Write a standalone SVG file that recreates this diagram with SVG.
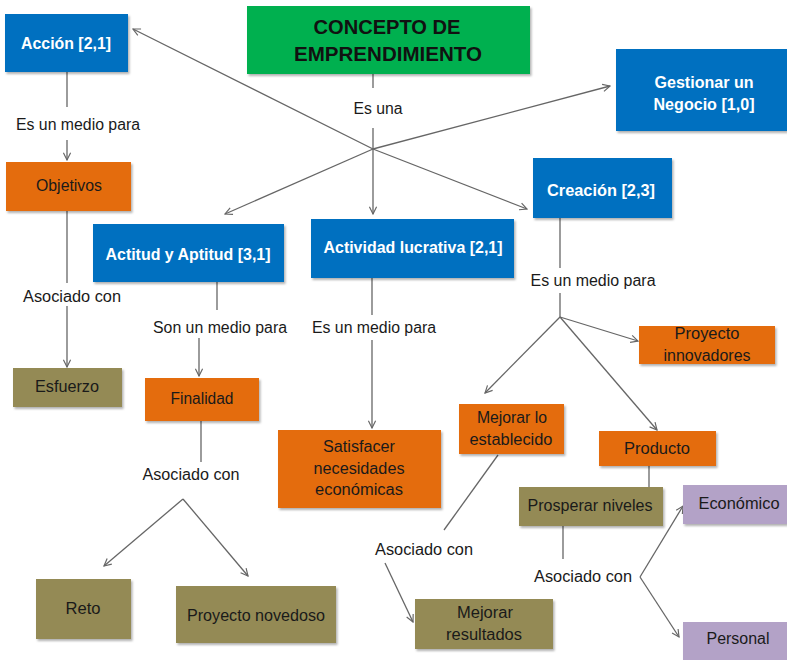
<svg xmlns="http://www.w3.org/2000/svg" width="787" height="660" viewBox="0 0 787 660">
<style>
text{font-family:"Liberation Sans",Arial,sans-serif;text-anchor:middle}
.bl{fill:#0070C0}.gr{fill:#00B050}.or{fill:#E46C0A}.ol{fill:#948A54}.pu{fill:#B3A2C7}
.wt{fill:#ffffff;font-weight:bold;font-size:17px}
.ct{fill:#111111;font-weight:bold;font-size:20px}
.dt{fill:#1a1a1a;font-size:16px}
.lb{fill:#1a1a1a;font-size:16px}
.cn line{stroke:#666666;stroke-width:1.3;fill:none}
.cn .a{marker-end:url(#ar)}
</style>
<defs>
<marker id="ar" viewBox="0 0 10 10" refX="9" refY="5" markerWidth="9" markerHeight="9" markerUnits="userSpaceOnUse" orient="auto">
<path d="M1,1 L9,5 L1,9" fill="none" stroke="#666666" stroke-width="1.3"/>
</marker>
<filter id="sh" x="-10%" y="-10%" width="130%" height="140%">
<feDropShadow dx="1.5" dy="2" stdDeviation="1.2" flood-color="#000" flood-opacity="0.3"/>
</filter>
</defs>
<rect width="787" height="660" fill="#ffffff"/>

<g class="cn" id="connectors">
<line x1="67" y1="72" x2="67" y2="107"/>
<line class="a" x1="67" y1="140" x2="67" y2="160"/>
<line x1="67" y1="211" x2="67" y2="283"/>
<line class="a" x1="67" y1="306" x2="67" y2="367"/>
<line x1="373" y1="74" x2="373" y2="88"/>
<line x1="373" y1="128" x2="373" y2="149"/>
<line class="a" x1="373" y1="149" x2="133" y2="29"/>
<line class="a" x1="373" y1="149" x2="610" y2="86"/>
<line class="a" x1="373" y1="149" x2="225" y2="214"/>
<line class="a" x1="373" y1="149" x2="527" y2="209"/>
<line class="a" x1="373" y1="149" x2="373" y2="214"/>
<line x1="217" y1="282" x2="217" y2="310"/>
<line class="a" x1="199" y1="338" x2="199" y2="376"/>
<line x1="201" y1="421" x2="201" y2="462"/>
<line class="a" x1="183" y1="499" x2="104" y2="566"/>
<line class="a" x1="183" y1="499" x2="248" y2="576"/>
<line x1="372" y1="278" x2="372" y2="315"/>
<line class="a" x1="372" y1="340" x2="372" y2="428"/>
<line x1="560" y1="218" x2="560" y2="268"/>
<line x1="560" y1="293" x2="560" y2="317"/>
<line class="a" x1="560" y1="317" x2="638" y2="341"/>
<line class="a" x1="560" y1="317" x2="485" y2="393"/>
<line class="a" x1="560" y1="317" x2="657" y2="430"/>
<line x1="498" y1="455" x2="444" y2="530"/>
<line class="a" x1="385" y1="563" x2="413" y2="622"/>
<line x1="649" y1="466" x2="649" y2="487"/>
<line x1="563" y1="526" x2="563" y2="559"/>
<line class="a" x1="640" y1="577" x2="683" y2="506"/>
<line class="a" x1="640" y1="577" x2="679" y2="637"/>
</g>

<g id="labels">
<text class="lb" x="78" y="130" textLength="124" lengthAdjust="spacingAndGlyphs">Es un medio para</text>
<text class="lb" x="72" y="302" textLength="98" lengthAdjust="spacingAndGlyphs">Asociado con</text>
<text class="lb" x="378" y="114" textLength="49" lengthAdjust="spacingAndGlyphs">Es una</text>
<text class="lb" x="220" y="333" textLength="134" lengthAdjust="spacingAndGlyphs">Son un medio para</text>
<text class="lb" x="374" y="333" textLength="124" lengthAdjust="spacingAndGlyphs">Es un medio para</text>
<text class="lb" x="593" y="286" textLength="125" lengthAdjust="spacingAndGlyphs">Es un medio para</text>
<text class="lb" x="191" y="480" textLength="97" lengthAdjust="spacingAndGlyphs">Asociado con</text>
<text class="lb" x="424" y="555" textLength="98" lengthAdjust="spacingAndGlyphs">Asociado con</text>
<text class="lb" x="583" y="582" textLength="98" lengthAdjust="spacingAndGlyphs">Asociado con</text>
</g>

<g id="concepto"><rect class="gr" x="247" y="6" width="283" height="68" filter="url(#sh)"/>
<text class="ct" x="387" y="34" textLength="147" lengthAdjust="spacingAndGlyphs">CONCEPTO DE</text>
<text class="ct" x="388" y="61" textLength="188" lengthAdjust="spacingAndGlyphs">EMPRENDIMIENTO</text></g>

<g id="accion"><rect class="bl" x="5" y="14" width="123" height="58" filter="url(#sh)"/>
<text class="wt" x="66" y="49" textLength="90" lengthAdjust="spacingAndGlyphs">Acción [2,1]</text></g>

<g id="gestionar"><rect class="bl" x="616" y="49" width="171" height="82" filter="url(#sh)"/>
<text class="wt" x="704" y="88" textLength="99" lengthAdjust="spacingAndGlyphs">Gestionar un</text>
<text class="wt" x="704" y="110" textLength="101" lengthAdjust="spacingAndGlyphs">Negocio [1,0]</text></g>

<g id="objetivos"><rect class="or" x="6" y="162" width="125" height="49" filter="url(#sh)"/>
<text class="dt" x="69" y="191" textLength="66" lengthAdjust="spacingAndGlyphs">Objetivos</text></g>

<g id="creacion"><rect class="bl" x="533" y="158" width="139" height="60" filter="url(#sh)"/>
<text class="wt" x="601" y="196" textLength="108" lengthAdjust="spacingAndGlyphs">Creación [2,3]</text></g>

<g id="actitud"><rect class="bl" x="93" y="224" width="191" height="58" filter="url(#sh)"/>
<text class="wt" x="188" y="260" textLength="165" lengthAdjust="spacingAndGlyphs">Actitud y Aptitud [3,1]</text></g>

<g id="actividad"><rect class="bl" x="311" y="219" width="203" height="59" filter="url(#sh)"/>
<text class="wt" x="413" y="253" textLength="179" lengthAdjust="spacingAndGlyphs">Actividad lucrativa [2,1]</text></g>

<g id="esfuerzo"><rect class="ol" x="13" y="368" width="109" height="39" filter="url(#sh)"/>
<text class="dt" x="67" y="392" textLength="64" lengthAdjust="spacingAndGlyphs">Esfuerzo</text></g>

<g id="finalidad"><rect class="or" x="145" y="378" width="114" height="43" filter="url(#sh)"/>
<text class="dt" x="202" y="404" textLength="63" lengthAdjust="spacingAndGlyphs">Finalidad</text></g>

<g id="satisfacer"><rect class="or" x="278" y="430" width="163" height="78" filter="url(#sh)"/>
<text class="dt" x="359" y="452" textLength="72" lengthAdjust="spacingAndGlyphs">Satisfacer</text>
<text class="dt" x="359" y="474" textLength="91" lengthAdjust="spacingAndGlyphs">necesidades</text>
<text class="dt" x="359" y="495" textLength="88" lengthAdjust="spacingAndGlyphs">económicas</text></g>

<g id="proyecto-innovadores"><rect class="or" x="639" y="326" width="136" height="38" filter="url(#sh)"/>
<text class="dt" x="707" y="339" textLength="65" lengthAdjust="spacingAndGlyphs">Proyecto</text>
<text class="dt" x="707" y="361" textLength="87" lengthAdjust="spacingAndGlyphs">innovadores</text></g>

<g id="mejorar-establecido"><rect class="or" x="459" y="404" width="105" height="50" filter="url(#sh)"/>
<text class="dt" x="512" y="423" textLength="70" lengthAdjust="spacingAndGlyphs">Mejorar lo</text>
<text class="dt" x="511" y="445" textLength="83" lengthAdjust="spacingAndGlyphs">establecido</text></g>

<g id="producto"><rect class="or" x="599" y="431" width="117" height="35" filter="url(#sh)"/>
<text class="dt" x="657" y="454" textLength="66" lengthAdjust="spacingAndGlyphs">Producto</text></g>

<g id="prosperar"><rect class="ol" x="519" y="487" width="144" height="39" filter="url(#sh)"/>
<text class="dt" x="590" y="511" textLength="125" lengthAdjust="spacingAndGlyphs">Prosperar niveles</text></g>

<g id="economico"><rect class="pu" x="683" y="485" width="104" height="39" filter="url(#sh)"/>
<text class="dt" x="739" y="509" textLength="81" lengthAdjust="spacingAndGlyphs">Económico</text></g>

<g id="personal"><rect class="pu" x="683" y="622" width="104" height="38" filter="url(#sh)"/>
<text class="dt" x="738" y="644" textLength="63" lengthAdjust="spacingAndGlyphs">Personal</text></g>

<g id="mejorar-resultados"><rect class="ol" x="415" y="599" width="138" height="50" filter="url(#sh)"/>
<text class="dt" x="485" y="618" textLength="56" lengthAdjust="spacingAndGlyphs">Mejorar</text>
<text class="dt" x="484" y="640" textLength="76" lengthAdjust="spacingAndGlyphs">resultados</text></g>

<g id="reto"><rect class="ol" x="36" y="579" width="95" height="60" filter="url(#sh)"/>
<text class="dt" x="83" y="614" textLength="35" lengthAdjust="spacingAndGlyphs">Reto</text></g>

<g id="proyecto-novedoso"><rect class="ol" x="176" y="586" width="160" height="57" filter="url(#sh)"/>
<text class="dt" x="256" y="621" textLength="138" lengthAdjust="spacingAndGlyphs">Proyecto novedoso</text></g>
</svg>
